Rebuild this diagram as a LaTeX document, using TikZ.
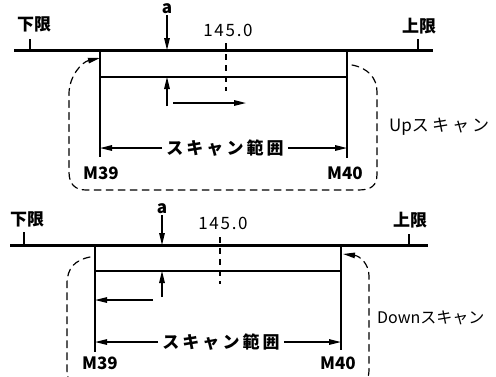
\documentclass[tikz,border=0pt]{standalone}
\usepackage{fontspec}
\setmainfont{Noto Sans CJK JP}
\newfontfamily\spacedfont{Noto Sans CJK JP}[LetterSpace=18]
\newfontfamily\numfont{Noto Sans CJK JP}[LetterSpace=10]
\usepackage{tikz}
\usetikzlibrary{arrows.meta,calc,positioning}

\begin{document}
\begin{tikzpicture}[x=1pt,y=-1pt,
    every node/.style={font=\fontsize{17}{20}\selectfont\bfseries,inner sep=4pt},
    bar/.style={line width=3pt},
    midbar/.style={line width=2.4pt},
    thinline/.style={line width=1.3pt},
    arr/.style={line width=1.3pt,-{Triangle[length=12pt,width=5.5pt]}},
    loopline/.style={line width=1.2pt,dash pattern=on 7pt off 5pt,line cap=round},
    marker/.style={line width=1.3pt,dash pattern=on 6pt off 5pt}]
      \useasboundingbox (0,0) rectangle (496,376);
      \clip (0,0) rectangle (496,376);
      % ---------------- Up scan ----------------
      % Limits
      \coordinate (lo1) at (14,50);
      \coordinate (hi1) at (433,50);
      \draw[bar] (lo1) -- (hi1);
      \node (kagen1) at (34,24) {下限};
      \node (jogen1) at (419,26) {上限};
      \draw[thinline] (30,39) -- (30,50);
      \draw[thinline] (418,39) -- (418,50);
      % Scan range
      \coordinate (m39t1) at (100,50);
      \coordinate (m39b1) at (100,157);
      \coordinate (m40t1) at (347,50);
      \coordinate (m40b1) at (347,158);
      \draw[thinline] (m39t1) -- (m39b1);
      \draw[thinline] (m40t1) -- (m40b1);
      \draw[midbar] (100,77) -- (347,77);
      % Width a
      \node[inner sep=1pt] (a1) at (167,9) {a};
      \coordinate (atop1) at (167,50);
      \coordinate (abot1) at (167,77);
      \coordinate (alow1) at (167,106);
      \draw[arr] (a1.south) -- (atop1);
      \draw[arr] (alow1) -- (abot1);
      % Center value
      \node (val1) at (228,30) {\numfont\mdseries 145.0};
      \draw[marker] (226,43) -- (226,91);
      % Direction
      \coordinate (dirs1) at (173,103);
      \coordinate (dire1) at (246,103);
      \draw[arr] (dirs1) -- (dire1);
      \node (range1) at (225,148) {\spacedfont\bfseries スキャン範囲};
      \draw[arr] (range1.west) -- (100,148);
      \draw[arr] (range1.east) -- (347,148);
      \node (m39a) at (101,173) {M39};
      \node (m40a) at (345,173) {M40};
      % Loop
      \draw[loopline,-{Triangle[length=12pt,width=5.5pt]}] (352,65) .. controls (368,68) and (377,78) .. (377,92) -- (377,174)
        .. controls (377,186) and (371,190) .. (358,190) -- (86,190)
        .. controls (75,190) and (69,184) .. (69,172) -- (69,94)
        .. controls (69,76) and (82,62) .. (100,58);
      \node[anchor=west,inner sep=0pt] (up) at (389,127) {\mdseries Up\spacedfont スキャン};
      % ---------------- Down scan ----------------
      % Limits
      \coordinate (lo2) at (10,245);
      \coordinate (hi2) at (428,245);
      \draw[bar] (lo2) -- (hi2);
      \node (kagen2) at (27,219) {下限};
      \node (jogen2) at (410,220) {上限};
      \draw[thinline] (24,232) -- (24,245);
      \draw[thinline] (409,234) -- (409,245);
      % Scan range
      \coordinate (m39t2) at (95,245);
      \coordinate (m39b2) at (95,352);
      \coordinate (m40t2) at (341,245);
      \coordinate (m40b2) at (341,350);
      \draw[thinline] (m39t2) -- (m39b2);
      \draw[thinline] (m40t2) -- (m40b2);
      \draw[midbar] (95,271) -- (341,271);
      % Width a
      \node[inner sep=1pt] (a2) at (162,209) {a};
      \coordinate (atop2) at (162,245);
      \coordinate (abot2) at (162,271);
      \coordinate (alow2) at (162,297);
      \draw[arr] (a2.south) -- (atop2);
      \draw[arr] (alow2) -- (abot2);
      % Center value
      \node (val2) at (223,223) {\numfont\mdseries 145.0};
      \draw[marker] (220,237) -- (220,284);
      % Direction
      \coordinate (dirs2) at (153,300);
      \coordinate (dire2) at (95,300);
      \draw[arr] (dirs2) -- (dire2);
      \node (range2) at (221,342) {\spacedfont\bfseries スキャン範囲};
      \draw[arr] (range2.west) -- (95,342);
      \draw[arr] (range2.east) -- (341,342);
      \node (m39c) at (100,363) {M39};
      \node (m40c) at (338,363) {M40};
      % Loop
      \draw[loopline,-{Triangle[length=12pt,width=5.5pt]}] (90,257) .. controls (75,260) and (67,268) .. (67,284) -- (67,370)
        .. controls (67,380) and (72,388) .. (84,388) -- (352,388)
        .. controls (364,388) and (369,380) .. (369,370) -- (369,276)
        .. controls (369,264) and (360,256) .. (343,254);
      \node[anchor=west,inner sep=0pt,font=\fontsize{16}{20}\selectfont] (down) at (377,318) {Downスキャン};
\end{tikzpicture}
\end{document}
